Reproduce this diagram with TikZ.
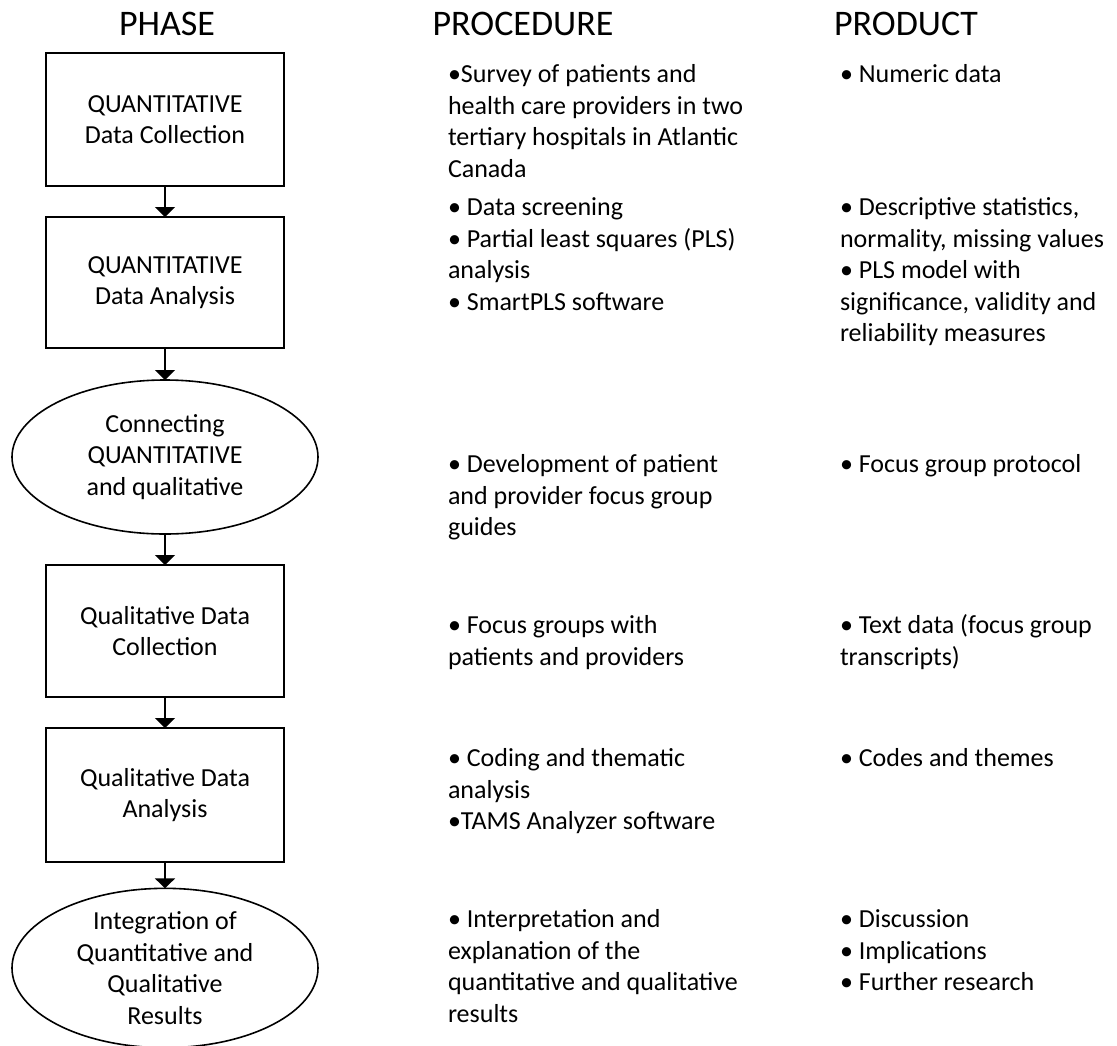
\documentclass[tikz,border=0pt]{standalone}
\usepackage{fontspec}
\setmainfont{Carlito}
\usetikzlibrary{shapes.geometric,arrows.meta}

\newcommand\bodyfont{\fontsize{26}{31.5}\selectfont}
\newcommand\headfont{\fontsize{36}{42}\selectfont}

\begin{document}
\begin{tikzpicture}[x=1pt,y=-1pt,
  every node/.style={inner sep=0pt,outer sep=0pt},
  phasebox/.style={draw,line width=2pt,minimum width=238pt,align=center,font=\bodyfont},
  phaseoval/.style={ellipse,draw,line width=1.6pt,minimum width=306pt,align=center,font=\bodyfont},
  head/.style={anchor=base,font=\headfont},
  col/.style={anchor=north west,align=left,font=\bodyfont},
  flow/.style={line width=2pt,-{Triangle[width=20pt,length=10pt]}}
]
\useasboundingbox (0,0) rectangle (1117,1045);

% column headings
\node[head] (hphase) at (167,35) {PHASE};
\node[head] (hproc)  at (523,35) {PROCEDURE};
\node[head] (hprod)  at (906,35) {PRODUCT};

% phases
\node[phasebox,minimum height=133pt] (p1) at (165,119.5) {QUANTITATIVE\\Data Collection};
\node[phasebox,minimum height=131pt] (p2) at (165,282.5) {QUANTITATIVE\\Data Analysis};
\node[phaseoval,minimum height=154pt] (p3) at (165,457) {Connecting\\QUANTITATIVE\\and qualitative};
\node[phasebox,minimum height=132pt] (p4) at (165,631) {Qualitative Data\\Collection};
\node[phasebox,minimum height=134pt] (p5) at (165,795) {Qualitative Data\\Analysis};
\node[phaseoval,minimum height=152pt] (p6) at (165,968) {Integration of\\Quantitative and\\Qualitative\\Results};

\draw[flow] (p1) -- (p2);
\draw[flow] (p2) -- (p3);
\draw[flow] (p3) -- (p4);
\draw[flow] (p4) -- (p5);
\draw[flow] (p5) -- (p6);

% procedures (first baseline = top + 22.05)
\node[col] (r1) at (448,60.9)  {\strut•Survey of patients and\\health care providers in two\\tertiary hospitals in Atlantic\\Canada};
\node[col] (r2) at (448,193.9) {\strut• Data screening\\• Partial least squares (PLS)\\analysis\\• SmartPLS software};
\node[col] (r3) at (448,450.9) {\strut• Development of patient\\and provider focus group\\guides};
\node[col] (r4) at (448,611.9) {\strut• Focus groups with\\patients and providers};
\node[col] (r5) at (448,744.9) {\strut• Coding and thematic\\analysis\\•TAMS Analyzer software};
\node[col] (r6) at (448,905.9) {\strut• Interpretation and\\explanation of the\\quantitative and qualitative\\results};

% products
\node[col] (o1) at (840,60.9)  {\strut• Numeric data};
\node[col] (o2) at (840,193.9) {\strut• Descriptive statistics,\\normality, missing values\\• PLS model with\\significance, validity and\\reliability measures};
\node[col] (o3) at (840,450.9) {\strut• Focus group protocol};
\node[col] (o4) at (840,611.9) {\strut• Text data (focus group\\transcripts)};
\node[col] (o5) at (840,744.9) {\strut• Codes and themes};
\node[col] (o6) at (840,905.9) {\strut• Discussion\\• Implications\\• Further research};
\end{tikzpicture}
\end{document}
